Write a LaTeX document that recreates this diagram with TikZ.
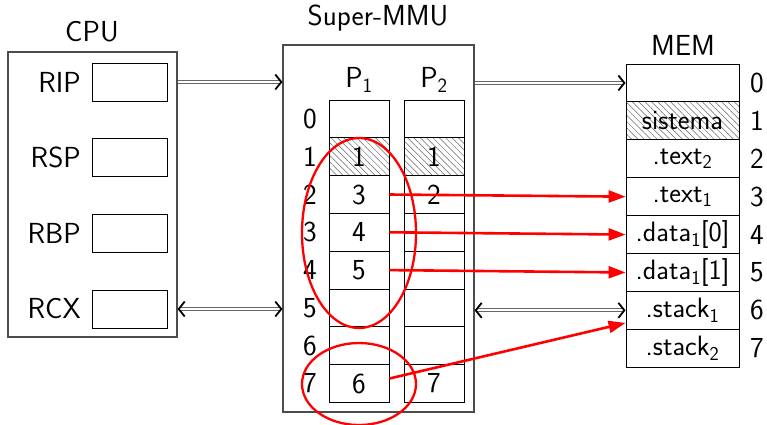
\documentclass[tikz,border=0pt]{standalone}
\usepackage{fontspec}
\usetikzlibrary{arrows.meta,patterns.meta,calc}
\begin{document}
\begin{tikzpicture}[x=1pt,y=-1pt,
  font=\sffamily\fontsize{29}{32}\selectfont,
  outer/.style={draw=black!70,line width=1.1pt,inner sep=0pt},
  cell/.style={draw=black,line width=0.9pt,inner sep=0pt,minimum width=60pt,minimum height=37.8pt},
  memcell/.style={draw=black,line width=0.9pt,inner sep=0pt,minimum width=113pt,minimum height=37.9pt,
    font=\sffamily\fontsize{28}{30}\selectfont},
  reg/.style={draw=black,line width=0.9pt,inner sep=0pt,minimum width=75pt,minimum height=38pt},
  hatch/.style={pattern={Lines[angle=-45,distance=4.5pt,line width=0.5pt]},pattern color=black!60},
  lbl/.style={inner sep=0pt},
  dbl/.style={draw=black!60,double=white,double distance=1.8pt,line width=1pt,
    >={Straight Barb[length=6pt,width=15pt,line width=1.8pt,color=black]}},
  redarr/.style={draw=red,line width=2.6pt,-{Triangle[length=17pt,width=12pt]}},
  redell/.style={draw=red,line width=2.3pt}
]
\useasboundingbox (0,0) rectangle (767,424);
\newcommand\sbs[1]{\textsubscript{#1}}
% CPU
\node[outer,minimum width=169pt,minimum height=285pt] (cpu) at (92.5,194.5) {};
\node[lbl] (cpulbl) at (92,32) {CPU};
\node[reg] (rip) at (129.5,82) {};
\node[reg] (rsp) at (129.5,157.5) {};
\node[reg] (rbp) at (129.5,233) {};
\node[reg] (rcx) at (129.5,309) {};
\node[lbl,anchor=east] (riplbl) at (81,82) {RIP};
\node[lbl,anchor=east] (rsplbl) at (81,157.5) {RSP};
\node[lbl,anchor=east] (rbplbl) at (81,233) {RBP};
\node[lbl,anchor=east] (rcxlbl) at (81,309) {RCX};
% MMU
\node[outer,minimum width=191pt,minimum height=367pt] (mmu) at (378.5,228.5) {};
\node[lbl] (mmulbl) at (378,18) {Super-MMU};
\node[lbl] (p1lbl) at (359,80) {P\sbs{1}};
\node[lbl] (p2lbl) at (434,80) {P\sbs{2}};
\foreach \i/\a/\b/\h in {0///,1/1/1/hatch,2/3/2/,3/4//,4/5//,5///,6///,7/6/7/}{
  \node[cell,\h] (p1r\i) at (359,{100+(\i+0.5)*37.8}) {\a};
  \node[cell,\h] (p2r\i) at (434,{100+(\i+0.5)*37.8}) {\b};
  \node[lbl] (mr\i) at (310,{100+(\i+0.5)*37.8}) {\i};
}
% MEM
\node[lbl] (memlbl) at (683,45) {MEM};
\foreach \i/\t/\h in {0//,1/sistema/hatch,2/.text\sbs{2}/,3/.text\sbs{1}/,4/.data\sbs{1}[0]/,5/.data\sbs{1}[1]/,6/.stack\sbs{1}/,7/.stack\sbs{2}/}{
  \node[memcell,\h] (mem\i) at (682.5,{64+(\i+0.5)*37.9}) {\t};
  \node[lbl] (mn\i) at (757,{64+(\i+0.5)*37.9}) {\i};
}
% double arrows
\draw[dbl,->] (cpu.east |- rip) -- (mmu.west |- rip);
\draw[dbl,->] (mmu.east |- mem0) -- (mem0.west);
\draw[dbl,<->] (cpu.east |- rcx) -- (mmu.west |- rcx);
\draw[dbl,<->] (mmu.east |- mem6) -- (mem6.west);
% red
\draw[redell] (359,233) ellipse [x radius=57pt,y radius=95pt];
\draw[redell] (359,384) ellipse [x radius=57pt,y radius=41pt];
\draw[redarr] (p1r2.east) -- (mem3.west);
\draw[redarr] (p1r3.east) -- (mem4.west);
\draw[redarr] (p1r4.east) -- (mem5.west);
\coordinate (m6b) at ($(mem6.west)!0.65!(mem6.south west)$);
\draw[redarr] ($(p1r7.east)+(0,-5)$) -- (m6b);
\end{tikzpicture}
\end{document}
